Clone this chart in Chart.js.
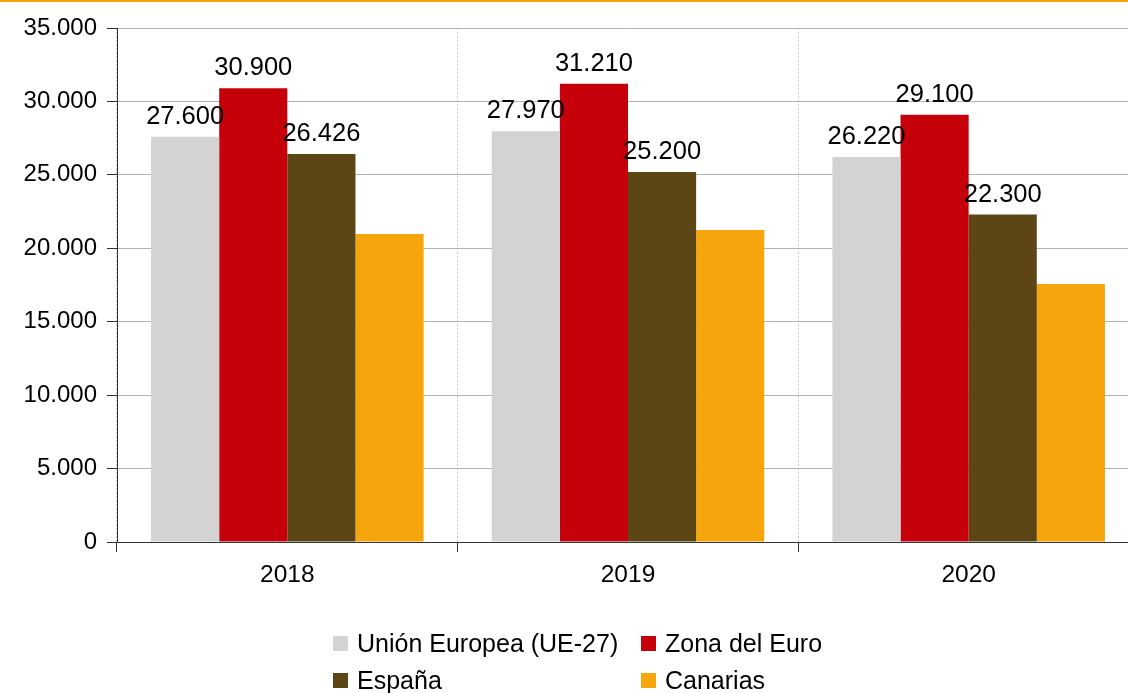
<!DOCTYPE html>
<html>
<head>
<meta charset="utf-8">
<script src="https://cdn.jsdelivr.net/npm/chart.js@4"></script>
<style>
  html, body { margin: 0; padding: 0; background: #fff; overflow: hidden; width: 1128px; height: 693px; }
  #wrap { position: relative; width: 1128px; height: 693px; overflow: hidden; }
  #topline { position: absolute; left: 0; top: 0; width: 1128px; height: 2px; background: #f5a300; z-index: 2; }
  canvas { position: absolute; left: 0; top: 0; }
  #legend {
    position: absolute; left: 333px; top: 630px;
    display: grid; grid-template-columns: 308px auto; grid-auto-rows: 37px;
    font-family: "Liberation Sans", Arial, sans-serif; font-size: 25px; line-height: 26px; color: #000;
  }
  .item { display: flex; align-items: center; height: 26px; }
  .box { width: 15px; height: 15px; margin-right: 9px; flex: none; }
</style>
</head>
<body>
<div id="wrap">
  <div id="topline"></div>
  <canvas id="chart" width="1140" height="693"></canvas>
  <div id="legend"></div>
</div>
<script>
const years = ['2018', '2019', '2020'];
const seriesNames = ['Unión Europea (UE-27)', 'Zona del Euro', 'España', 'Canarias'];
const seriesColors = ['#d3d3d3', '#c5000b', '#5d4616', '#f6a50d'];
const ue27 = [27600, 27970, 26220];
const zonaEuro = [30900, 31210, 29100];
const espana = [26426, 25200, 22300];
const canarias = [20970, 21250, 17570];
const showLabel = [true, true, true, false];

const fmt = v => new Intl.NumberFormat('de-DE').format(v);
const font = '"Liberation Sans", Arial, sans-serif';

// value labels above bars
const valueLabels = {
    id: 'valueLabels',
    afterDatasetsDraw(chart) {
        const ctx = chart.ctx;
        ctx.save();
        ctx.font = '25.5px ' + font;
        ctx.fillStyle = '#000';
        ctx.textAlign = 'center';
        ctx.textBaseline = 'alphabetic';
        chart.data.datasets.forEach((ds, i) => {
            if (!showLabel[i]) return;
            chart.getDatasetMeta(i).data.forEach((bar, j) => {
                ctx.fillText(fmt(ds.data[j]), bar.x, bar.y - 13);
            });
        });
        ctx.restore();
    }
};

const allValues = [ue27, zonaEuro, espana, canarias];

new Chart(document.getElementById('chart'), {
    type: 'bar',
    data: {
        labels: years,
        datasets: allValues.map((vals, i) => ({
            label: seriesNames[i],
            data: vals,
            backgroundColor: seriesColors[i],
            categoryPercentage: 0.8,
            barPercentage: 1.0
        }))
    },
    options: {
        responsive: false,
        animation: false,
        layout: { padding: { top: 28, right: 1, left: 0, bottom: 0 } },
        plugins: { legend: { display: false }, tooltip: { enabled: false } },
        scales: {
            x: {
                afterFit: s => { s.height = 151; },
                grid: { color: '#cccccc', tickColor: '#333', tickLength: 10, offset: true },
                border: { color: '#333', width: 1, dash: [2, 2] },
                ticks: { color: '#000', font: { family: font, size: 24.5 }, padding: 9 }
            },
            y: {
                min: 0, max: 35000,
                afterFit: s => { s.width = 117; },
                grid: { color: '#b3b3b3', tickColor: '#333', tickLength: 10 },
                border: { color: '#333', width: 1 },
                ticks: { stepSize: 5000, color: '#000', font: { family: font, size: 24 }, padding: 10, callback: v => fmt(v) }
            }
        }
    },
    plugins: [valueLabels]
});

const legend = document.getElementById('legend');
seriesNames.forEach((name, i) => {
    const item = document.createElement('div');
    item.className = 'item';
    item.innerHTML = `<span class="box" style="background:${seriesColors[i]}"></span><span>${name}</span>`;
    legend.appendChild(item);
});
</script>
</body>
</html>
